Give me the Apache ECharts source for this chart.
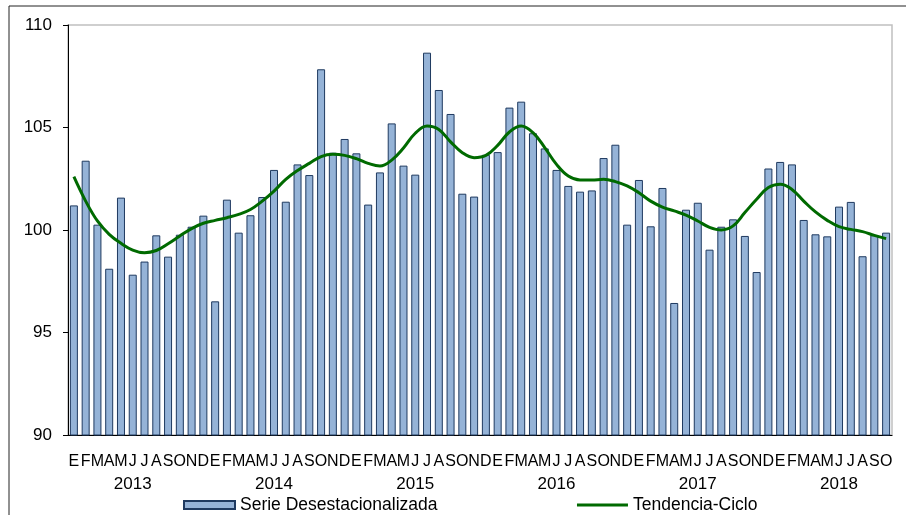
<!DOCTYPE html>
<html>
<head>
<meta charset="utf-8">
<script src="https://cdn.jsdelivr.net/npm/echarts@6/dist/echarts.min.js"></script>
<style>
  html, body { margin: 0; padding: 0; background: #fff; }
  #chart { width: 906px; height: 515px; }
</style>
</head>
<body>
<div id="chart"></div>
<script>
  // iniciales de los meses y años
  var monthInitials = ['E', 'F', 'M', 'A', 'M', 'J', 'J', 'A', 'S', 'O', 'N', 'D'];
  var years = ['2013', '2014', '2015', '2016', '2017', '2018'];
  var lastYearMonths = 10;

  // Serie Desestacionalizada
  var serieDes = [
    101.20, 103.38, 100.26, 98.11, 101.58, 97.82, 98.46, 99.74, 98.70, 99.77, 100.16, 100.70,
    96.52, 101.48, 99.87, 100.72, 101.61, 102.93, 101.38, 103.20, 102.68, 107.84, 103.77, 104.44,
    103.74, 101.24, 102.81, 105.20, 103.14, 102.70, 108.65, 106.83, 105.66, 101.77, 101.63, 103.67,
    103.80, 105.97, 106.26, 104.72, 103.98, 102.93, 102.15, 101.87, 101.93, 103.51, 104.16, 100.26,
    102.44, 100.18, 102.05, 96.44, 100.99, 101.33, 99.04, 100.16, 100.52, 99.71, 97.95, 103.00,
    103.32, 103.20, 100.49, 99.79, 99.69, 101.14, 101.37, 98.72, 99.75, 99.87
  ];

  // Tendencia-Ciclo
  var tendencia = [
    102.60, 101.41, 100.44, 99.79, 99.35, 99.02, 98.89, 99.00, 99.33, 99.71, 100.07, 100.33,
    100.47, 100.60, 100.76, 101.00, 101.41, 101.90, 102.47, 102.90, 103.25, 103.58, 103.69, 103.64,
    103.48, 103.25, 103.12, 103.41, 104.00, 104.72, 105.07, 104.90, 104.30, 103.77, 103.53, 103.64,
    104.13, 104.78, 105.07, 104.75, 104.02, 103.20, 102.63, 102.44, 102.44, 102.47, 102.36, 102.15,
    101.82, 101.41, 101.12, 100.93, 100.73, 100.44, 100.13, 100.00, 100.20, 100.85, 101.50, 102.07,
    102.23, 101.98, 101.41, 100.88, 100.47, 100.16, 100.03, 99.92, 99.74, 99.58
  ];

  var yTicks = { min: 90, max: 110, interval: 5 };

  var categories = [];
  years.forEach(function (y, yi) {
    var n = yi === years.length - 1 ? lastYearMonths : 12;
    for (var m = 0; m < n; m++) categories.push(y + '-' + monthInitials[m] + m);
  });

  var font = "'Liberation Sans', Arial, sans-serif";
  var myChart = echarts.init(document.getElementById('chart'));
  myChart.setOption({
    animation: false,
    graphic: [{
      type: 'rect',
      shape: { x: 9, y: 6, width: 1000, height: 1000 },
      style: { fill: 'none', stroke: '#222', lineWidth: 1 },
      silent: true
    }],
    grid: {
      left: 68, right: 14, top: 25, bottom: 80,
      show: true, borderColor: '#c0c0c0', borderWidth: 1.5
    },
    legend: {
      left: 178,
      top: 491,
      itemWidth: 51,
      itemHeight: 8,
      itemGap: 138,
      textStyle: { fontFamily: font, fontSize: 17.5, color: '#000' },
      data: [
        { name: 'Serie Desestacionalizada', icon: 'rect' },
        { name: 'Tendencia-Ciclo', itemStyle: { opacity: 0 }, lineStyle: { width: 3 } }
      ]
    },
    xAxis: [
      {
        type: 'category',
        data: categories,
        boundaryGap: true,
        axisLine: { lineStyle: { color: '#000', width: 1 } },
        axisTick: {
          length: 6,
          lineStyle: { color: '#000' },
          interval: function (i) { return i % 12 === 0; }
        },
        axisLabel: {
          interval: 0,
          margin: 19,
          fontFamily: font,
          fontSize: 16,
          color: '#000',
          formatter: function (v, i) { return monthInitials[i % 12]; }
        }
      },
      {
        type: 'category',
        data: categories,
        position: 'bottom',
        offset: 22,
        axisLine: { show: false },
        axisTick: { show: false },
        axisLabel: {
          interval: 0,
          margin: 19,
          fontFamily: font,
          fontSize: 17,
          color: '#000',
          formatter: function (v, i) { return i % 12 === 5 ? years[Math.floor(i / 12)] : ''; }
        }
      }
    ],
    yAxis: {
      type: 'value',
      min: yTicks.min,
      max: yTicks.max,
      interval: yTicks.interval,
      axisLine: { show: true, lineStyle: { color: '#000', width: 1 } },
      axisTick: { show: true, length: 5, lineStyle: { color: '#000' } },
      splitLine: { show: false },
      axisLabel: { margin: 16, fontFamily: font, fontSize: 17, color: '#000' }
    },
    series: [
      {
        name: 'Serie Desestacionalizada',
        type: 'bar',
        barWidth: 8,
        itemStyle: { color: '#95B3D7', borderColor: '#1F3A60', borderWidth: 1 },
        data: serieDes
      },
      {
        name: 'Tendencia-Ciclo',
        type: 'line',
        smooth: 0.4,
        symbol: 'none',
        lineStyle: { color: '#006a00', width: 3 },
        itemStyle: { color: '#006a00' },
        data: tendencia
      }
    ]
  });
</script>
</body>
</html>
